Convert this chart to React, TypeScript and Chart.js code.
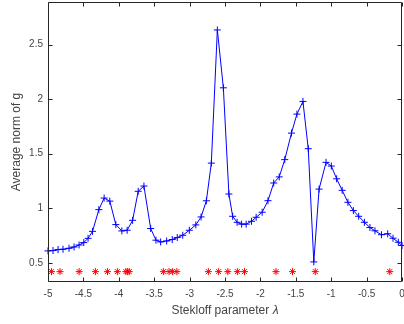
import { useEffect, useRef } from "react";
import { Chart, registerables } from "chart.js";

Chart.register(...registerables);

// Stekloff parameter values at which the average norm was evaluated
const lambdaValues = [
  -5, -4.929, -4.858, -4.788, -4.703, -4.632, -4.561, -4.495, -4.434, -4.371,
  -4.282, -4.207, -4.127, -4.042, -3.957, -3.882, -3.805, -3.726, -3.645, -3.55,
  -3.475, -3.409, -3.324, -3.245, -3.174, -3.097, -3.004, -2.912, -2.838, -2.763,
  -2.693, -2.608, -2.523, -2.445, -2.392, -2.329, -2.265, -2.201, -2.126, -2.06,
  -1.975, -1.893, -1.812, -1.734, -1.656, -1.561, -1.484, -1.399, -1.324, -1.246,
  -1.171, -1.073, -0.998, -0.923, -0.845, -0.764, -0.687, -0.612, -0.531, -0.453,
  -0.382, -0.29, -0.202, -0.127, -0.052, 0,
];

// Average norm of g at each parameter value
const avgNormValues = [
  0.61, 0.613, 0.622, 0.625, 0.634, 0.646, 0.664, 0.686, 0.725, 0.789,
  0.988, 1.094, 1.066, 0.851, 0.793, 0.799, 0.89, 1.156, 1.204, 0.815,
  0.708, 0.692, 0.701, 0.714, 0.732, 0.753, 0.799, 0.848, 0.921, 1.069,
  1.414, 2.634, 2.104, 1.131, 0.927, 0.872, 0.855, 0.855, 0.881, 0.918,
  0.964, 1.07, 1.232, 1.288, 1.446, 1.689, 1.863, 1.979, 1.546, 0.509,
  1.176, 1.421, 1.387, 1.27, 1.165, 1.055, 0.979, 0.927, 0.872, 0.824,
  0.794, 0.758, 0.767, 0.726, 0.689, 0.66,
];

// Stekloff eigenvalues, marked along a fixed level below the curve
const eigenvalues = [
  -4.95, -4.83, -4.56, -4.33, -4.16, -4.02, -3.9, -3.876, -3.853, -3.37, -3.29,
  -3.24, -3.18, -2.735, -2.59, -2.46, -2.325, -2.225, -1.78, -1.546, -1.225, -0.173,
];
const eigenvalueLevel = 0.42;

const xTicks = [-5, -4.5, -4, -3.5, -3, -2.5, -2, -1.5, -1, -0.5, 0];
const yTicks = [0.5, 1, 1.5, 2, 2.5];
const xLimits = [-5, 0];
const yLimits = [0.325, 2.89];

const xTitle = "Stekloff parameter ";
const xTitleSymbol = "λ";
const yTitle = "Average norm of g";

const FONT = "'Liberation Sans', Arial, Helvetica, sans-serif";
const AXIS_COLOR = "#262626";
const TEXT_COLOR = "#444444";

const axesBoxPlugin = {
  id: "axesBox",
  afterDraw(chart: any) {
    const { ctx, chartArea } = chart;
    const xs = chart.scales.x;
    const ys = chart.scales.y;
    const l = Math.round(chartArea.left) + 0.5;
    const r = Math.round(chartArea.right) - 0.5;
    const t = Math.round(chartArea.top) + 0.5;
    const b = Math.round(chartArea.bottom) - 0.5;
    const tick = 4;
    ctx.save();
    ctx.strokeStyle = AXIS_COLOR;
    ctx.lineWidth = 1;
    ctx.beginPath();
    ctx.rect(l, t, r - l, b - t);
    for (const v of xTicks) {
      const px = Math.round(xs.getPixelForValue(v)) + 0.5;
      ctx.moveTo(px, b);
      ctx.lineTo(px, b - tick);
      ctx.moveTo(px, t);
      ctx.lineTo(px, t + tick);
    }
    for (const v of yTicks) {
      const py = Math.round(ys.getPixelForValue(v)) + 0.5;
      ctx.moveTo(l, py);
      ctx.lineTo(l + tick, py);
      ctx.moveTo(r, py);
      ctx.lineTo(r - tick, py);
    }
    ctx.stroke();

    // axis titles
    ctx.fillStyle = TEXT_COLOR;
    ctx.textBaseline = "middle";
    const normalFont = `12px ${FONT}`;
    const italicFont = `italic 12px ${FONT}`;
    ctx.font = normalFont;
    const w1 = ctx.measureText(xTitle).width;
    ctx.font = italicFont;
    const w2 = ctx.measureText(xTitleSymbol).width;
    const cx = (chartArea.left + chartArea.right) / 2;
    const startX = cx - (w1 + w2) / 2;
    const ty = 311;
    ctx.textAlign = "left";
    ctx.font = normalFont;
    ctx.fillText(xTitle, startX, ty);
    ctx.font = italicFont;
    ctx.fillText(xTitleSymbol, startX + w1, ty);

    ctx.font = normalFont;
    ctx.textAlign = "center";
    ctx.translate(17, (chartArea.top + chartArea.bottom) / 2);
    ctx.rotate(-Math.PI / 2);
    ctx.fillText(yTitle, 0, 0);
    ctx.restore();
  },
};

function formatTick(v: number) {
  return String(v);
}

export default function App() {
  const canvasRef = useRef<HTMLCanvasElement | null>(null);

  useEffect(() => {
    const canvas = canvasRef.current;
    if (!canvas) return;
    const curve = lambdaValues.map((x, i) => ({ x, y: avgNormValues[i] }));
    const eigs = eigenvalues.map((x) => ({ x, y: eigenvalueLevel }));

    const chart = new Chart(canvas, {
      type: "scatter",
      data: {
        datasets: [
          {
            label: "average norm",
            data: curve,
            showLine: true,
            borderColor: "#0000ff",
            backgroundColor: "#0000ff",
            borderWidth: 1,
            pointStyle: "cross",
            pointRadius: 3.5,
            pointBorderWidth: 1,
            pointBorderColor: "#0000ff",
            tension: 0,
            clip: false,
          },
          {
            label: "eigenvalues",
            data: eigs,
            showLine: false,
            borderColor: "#ff0000",
            backgroundColor: "#ff0000",
            pointStyle: "star",
            pointRadius: 3.5,
            pointBorderWidth: 1,
            pointBorderColor: "#ff0000",
            clip: false,
          },
        ],
      },
      options: {
        responsive: false,
        animation: false,
        devicePixelRatio: 1,
        layout: { autoPadding: false, padding: { left: 0, right: 2, top: 2, bottom: 0 } },
        plugins: {
          legend: { display: false },
          tooltip: { enabled: false },
          title: { display: false },
        },
        scales: {
          x: {
            type: "linear",
            min: xLimits[0],
            max: xLimits[1],
            grid: { display: false, drawTicks: false },
            border: { display: false },
            afterBuildTicks: (s: any) => {
              s.ticks = xTicks.map((value) => ({ value }));
            },
            afterFit: (s: any) => {
              s.height = 42;
              s.paddingLeft = 0;
              s.paddingRight = 0;
              s.paddingTop = 0;
              s.paddingBottom = 0;
            },
            ticks: {
              autoSkip: false,
              maxRotation: 0,
              padding: 6,
              color: TEXT_COLOR,
              font: { family: FONT, size: 10 },
              callback: (v: any) => formatTick(Number(v)),
            },
          },
          y: {
            type: "linear",
            min: yLimits[0],
            max: yLimits[1],
            grid: { display: false, drawTicks: false },
            border: { display: false },
            afterBuildTicks: (s: any) => {
              s.ticks = yTicks.map((value) => ({ value }));
            },
            afterFit: (s: any) => {
              s.width = 48;
              s.paddingLeft = 0;
              s.paddingRight = 0;
              s.paddingTop = 0;
              s.paddingBottom = 0;
            },
            ticks: {
              autoSkip: false,
              padding: 5,
              color: TEXT_COLOR,
              font: { family: FONT, size: 10 },
              callback: (v: any) => formatTick(Number(v)),
            },
          },
        },
      },
      plugins: [axesBoxPlugin],
    });
    return () => chart.destroy();
  }, []);

  return (
    <div style={{ position: "absolute", left: 0, top: 0, width: 404, height: 324, background: "#ffffff" }}>
      <canvas ref={canvasRef} width={404} height={324} />
    </div>
  );
}
